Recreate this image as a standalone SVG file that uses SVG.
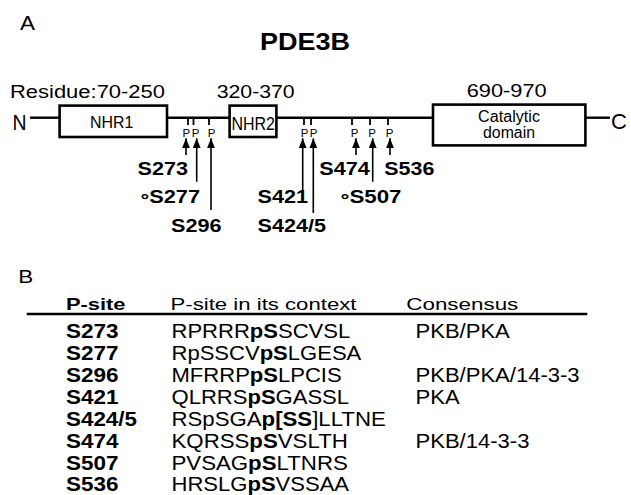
<svg xmlns="http://www.w3.org/2000/svg" width="631" height="495" viewBox="0 0 631 495">
<style>
text{font-family:"Liberation Sans",Arial,sans-serif;fill:#000}
.b{font-weight:bold}
.lbl{font-size:18.5px;font-weight:bold}
.p{font-size:11.5px;text-anchor:middle}
.row{font-size:19.5px}
.hdr{font-size:17px}
.box{fill:#fff;stroke:#000;stroke-width:2.6}
.bb{stroke:#000;stroke-width:2.4;fill:none}
.tick{stroke:#000;stroke-width:1.8}
.arr{stroke:#000;stroke-width:1.6;marker-end:url(#ah)}
</style>
<defs>
<marker id="ah" markerUnits="userSpaceOnUse" markerWidth="11" markerHeight="9" refX="10" refY="4" orient="auto">
<path d="M0,0 L10,4 L0,8 z" fill="#000"/>
</marker>
</defs>
<rect width="631" height="495" fill="#fff"/>
<g id="panelA">
<text x="20" y="30" font-size="20" textLength="15" lengthAdjust="spacingAndGlyphs">A</text>
<text class="b" x="260" y="50" font-size="24" textLength="90" lengthAdjust="spacingAndGlyphs">PDE3B</text>
<text x="10" y="98" font-size="18" textLength="155" lengthAdjust="spacingAndGlyphs">Residue:70-250</text>
<text x="216.7" y="97.7" font-size="18" textLength="78" lengthAdjust="spacingAndGlyphs">320-370</text>
<text x="466.7" y="96.7" font-size="18" textLength="80" lengthAdjust="spacingAndGlyphs">690-970</text>
</g>
<g id="backbone">
<text x="12.5" y="130" font-size="22" textLength="14" lengthAdjust="spacingAndGlyphs">N</text>
<line class="bb" x1="30" y1="117.7" x2="60" y2="117.7"/>
<line class="bb" x1="167" y1="117.7" x2="230" y2="117.7"/>
<line class="bb" x1="276" y1="117.7" x2="434" y2="117.7"/>
<line class="bb" x1="585" y1="117.7" x2="610" y2="117.7"/>
<text x="611" y="128.5" font-size="22">C</text>
</g>
<g id="NHR1">
<rect class="box" x="59.6" y="105.6" width="107.4" height="31.4"/>
<text x="90" y="128.3" font-size="16" textLength="43.3" lengthAdjust="spacingAndGlyphs">NHR1</text>
</g>
<g id="NHR2">
<rect class="box" x="229.6" y="105.6" width="46.8" height="31.4"/>
<text x="231.5" y="129.5" font-size="18" textLength="43.5" lengthAdjust="spacingAndGlyphs">NHR2</text>
</g>
<g id="catalytic">
<rect class="box" x="433" y="104.6" width="152.4" height="40.8"/>
<text x="478" y="121.7" font-size="16" textLength="62" lengthAdjust="spacingAndGlyphs">Catalytic</text>
<text x="483" y="138.3" font-size="16" textLength="52" lengthAdjust="spacingAndGlyphs">domain</text>
</g>
<g id="psites">
<line class="tick" x1="188" y1="118" x2="188" y2="125"/>
<line class="tick" x1="193.5" y1="118" x2="193.5" y2="125"/>
<line class="tick" x1="209" y1="118" x2="209" y2="125"/>
<line class="tick" x1="304" y1="118" x2="304" y2="125"/>
<line class="tick" x1="311" y1="118" x2="311" y2="125"/>
<line class="tick" x1="352" y1="118" x2="352" y2="125"/>
<line class="tick" x1="370" y1="118" x2="370" y2="125"/>
<line class="tick" x1="388" y1="118" x2="388" y2="125"/>
<text class="p" x="186.3" y="136.7">P</text>
<text class="p" x="195.5" y="136.7">P</text>
<text class="p" x="211.5" y="136.7">P</text>
<text class="p" x="304.5" y="136.7">P</text>
<text class="p" x="313.5" y="136.7">P</text>
<text class="p" x="354.5" y="136.7">P</text>
<text class="p" x="372" y="136.7">P</text>
<text class="p" x="389.5" y="136.7">P</text>
</g>
<g id="connectors">
<line class="arr" x1="186" y1="155" x2="186" y2="138.3"/>
<line class="arr" x1="196.7" y1="181.7" x2="196.7" y2="138.3"/>
<line class="arr" x1="211" y1="210" x2="211" y2="138.3"/>
<line class="arr" x1="302.7" y1="190" x2="302.7" y2="138.3"/>
<line class="arr" x1="313.3" y1="213" x2="313.3" y2="138.3"/>
<line class="arr" x1="356" y1="155" x2="356" y2="138.3"/>
<line class="arr" x1="372.7" y1="181.7" x2="372.7" y2="138.3"/>
<line class="arr" x1="390" y1="155" x2="390" y2="138.3"/>
</g>
<g id="site-labels">
<text class="lbl" x="137.5" y="175" textLength="50.5" lengthAdjust="spacingAndGlyphs">S273</text>
<text class="lbl" x="140.5" y="203.3" textLength="59.5" lengthAdjust="spacingAndGlyphs"><tspan dy="3">°</tspan><tspan dy="-3">S277</tspan></text>
<text class="lbl" x="171" y="231.7" textLength="50.5" lengthAdjust="spacingAndGlyphs">S296</text>
<text class="lbl" x="257.5" y="203.3" textLength="50.5" lengthAdjust="spacingAndGlyphs">S421</text>
<text class="lbl" x="257.5" y="231.7" textLength="68.5" lengthAdjust="spacingAndGlyphs">S424/5</text>
<text class="lbl" x="319.3" y="175" textLength="50.5" lengthAdjust="spacingAndGlyphs">S474</text>
<text class="lbl" x="340.5" y="203.3" textLength="61" lengthAdjust="spacingAndGlyphs"><tspan dy="3">°</tspan><tspan dy="-3">S507</tspan></text>
<text class="lbl" x="384.3" y="175" textLength="50" lengthAdjust="spacingAndGlyphs">S536</text>
</g>
<g id="panelB">
<text x="18.3" y="283.3" font-size="18" textLength="15" lengthAdjust="spacingAndGlyphs">B</text>
<text class="hdr b" x="66" y="309.5" textLength="59.5" lengthAdjust="spacingAndGlyphs">P-site</text>
<text class="hdr" x="170.5" y="309.5" textLength="186" lengthAdjust="spacingAndGlyphs">P-site in its context</text>
<text class="hdr" x="406.3" y="309.5" textLength="112" lengthAdjust="spacingAndGlyphs">Consensus</text>
<line x1="26.7" y1="314" x2="587.3" y2="314" stroke="#000" stroke-width="2.5"/>
<g class="row">
<text class="b" x="66" y="338.3" textLength="52.5" lengthAdjust="spacingAndGlyphs">S273</text>
<text class="b" x="66" y="360.2" textLength="52.5" lengthAdjust="spacingAndGlyphs">S277</text>
<text class="b" x="66" y="382.1" textLength="52.5" lengthAdjust="spacingAndGlyphs">S296</text>
<text class="b" x="66" y="404" textLength="52.5" lengthAdjust="spacingAndGlyphs">S421</text>
<text class="b" x="66" y="425.9" textLength="71" lengthAdjust="spacingAndGlyphs">S424/5</text>
<text class="b" x="66" y="447.8" textLength="52.5" lengthAdjust="spacingAndGlyphs">S474</text>
<text class="b" x="66" y="469.7" textLength="52.5" lengthAdjust="spacingAndGlyphs">S507</text>
<text class="b" x="66" y="491" textLength="52.5" lengthAdjust="spacingAndGlyphs">S536</text>

<text x="171.5" y="338.3" textLength="178.7" lengthAdjust="spacingAndGlyphs">RPRRR<tspan class="b">pS</tspan>SCVSL</text>
<text x="171.5" y="360.2" textLength="189.8" lengthAdjust="spacingAndGlyphs">RpSSCV<tspan class="b">pS</tspan>LGESA</text>
<text x="171.5" y="382.1" textLength="170.2" lengthAdjust="spacingAndGlyphs">MFRRP<tspan class="b">pS</tspan>LPCIS</text>
<text x="171.5" y="404" textLength="177.6" lengthAdjust="spacingAndGlyphs">QLRRS<tspan class="b">pS</tspan>GASSL</text>
<text x="171.5" y="425.9" textLength="214.3" lengthAdjust="spacingAndGlyphs">RSpSGA<tspan class="b">p[SS</tspan>]LLTNE</text>
<text x="171.5" y="447.8" textLength="176.3" lengthAdjust="spacingAndGlyphs">KQRSS<tspan class="b">pS</tspan>VSLTH</text>
<text x="171.5" y="469.7" textLength="176.3" lengthAdjust="spacingAndGlyphs">PVSAG<tspan class="b">pS</tspan>LTNRS</text>
<text x="171.5" y="491" textLength="177.6" lengthAdjust="spacingAndGlyphs">HRSLG<tspan class="b">pS</tspan>VSSAA</text>

<text x="415.5" y="338.3" textLength="94.3" lengthAdjust="spacingAndGlyphs">PKB/PKA</text>
<text x="415.5" y="382.1" textLength="164.1" lengthAdjust="spacingAndGlyphs">PKB/PKA/14-3-3</text>
<text x="415.5" y="404" textLength="44.1" lengthAdjust="spacingAndGlyphs">PKA</text>
<text x="415.5" y="447.8" textLength="113.9" lengthAdjust="spacingAndGlyphs">PKB/14-3-3</text>
</g>
</g>
</svg>
